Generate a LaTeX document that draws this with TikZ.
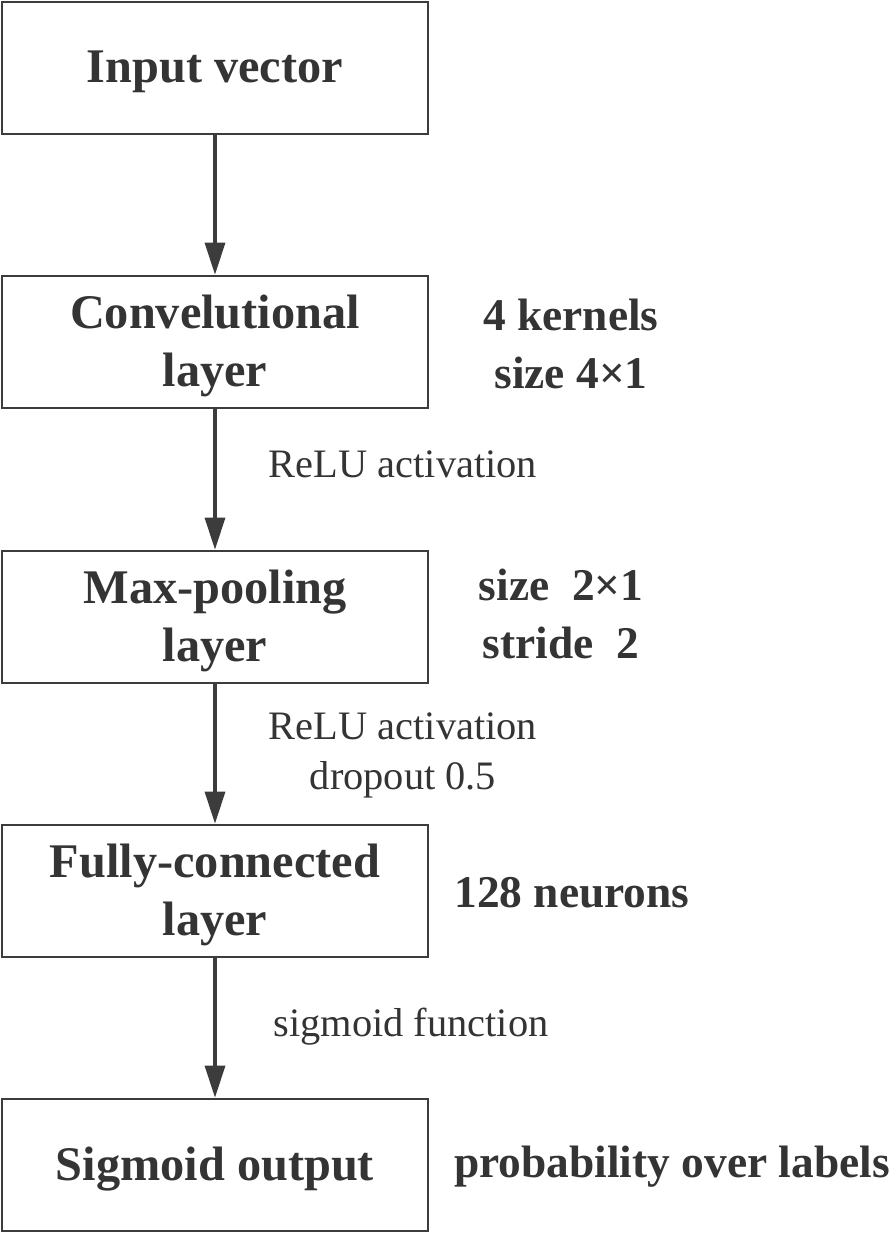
\documentclass[tikz,border=0pt]{standalone}
\usepackage{fontspec}
\setmainfont{Liberation Serif}
\usetikzlibrary{arrows.meta}
\definecolor{inkgray}{RGB}{52,52,52}
\definecolor{linegray}{RGB}{60,60,60}
\tikzset{
  layerbox/.style={draw=linegray, line width=2.6pt, minimum width=426pt, minimum height=132pt,
    inner sep=0pt},
  boxtext/.style={align=center, text=inkgray, inner sep=0pt, yshift=-4pt,
    font=\fontsize{48.3}{58.5}\selectfont\bfseries},
  sidelabel/.style={align=center, text=inkgray, inner sep=0pt, font=\fontsize{45.4}{57.5}\selectfont\bfseries},
  arrowlabel/.style={align=center, text=inkgray, inner sep=0pt, font=\fontsize{40.4}{50}\selectfont},
  flow/.style={draw=linegray, line width=3.2pt, -{Triangle[length=32pt,width=20pt]}}
}
\begin{document}
\begin{tikzpicture}[x=1pt,y=-1pt]
\useasboundingbox (0,0) rectangle (892,1234);
\node[layerbox, label={[boxtext]center:Input vector}] (inp) at (215,68) {};
\node[layerbox, label={[boxtext]center:Convelutional\\layer}] (conv) at (215,342) {};
\node[layerbox, label={[boxtext]center:Max-pooling\\layer}] (pool) at (215,617) {};
\node[layerbox, label={[boxtext]center:Fully-connected\\layer}] (fc) at (215,891) {};
\node[layerbox, label={[boxtext]center:Sigmoid output}] (out) at (215,1165) {};

\node[sidelabel] (convinfo) at (571,344) {4 kernels\\size 4×1};
\node[sidelabel] (poolinfo) at (561,614) {size\ \ 2×1\\stride\ \ 2};
\node[sidelabel] (fcinfo) at (572,893) {128 neurons};
\node[sidelabel] (outinfo) at (672,1167) {probability over labels};

\draw[flow] (inp) -- (conv);
\draw[flow] (conv) -- (pool);
\draw[flow] (pool) -- (fc);
\draw[flow] (fc) -- (out);

\node[arrowlabel] (act1) at (403,464) {ReLU activation};
\node[arrowlabel] (act2) at (403,755) {ReLU activation\\dropout 0.5};
\node[arrowlabel] (act3) at (411,1027) {sigmoid function};
\end{tikzpicture}
\end{document}
